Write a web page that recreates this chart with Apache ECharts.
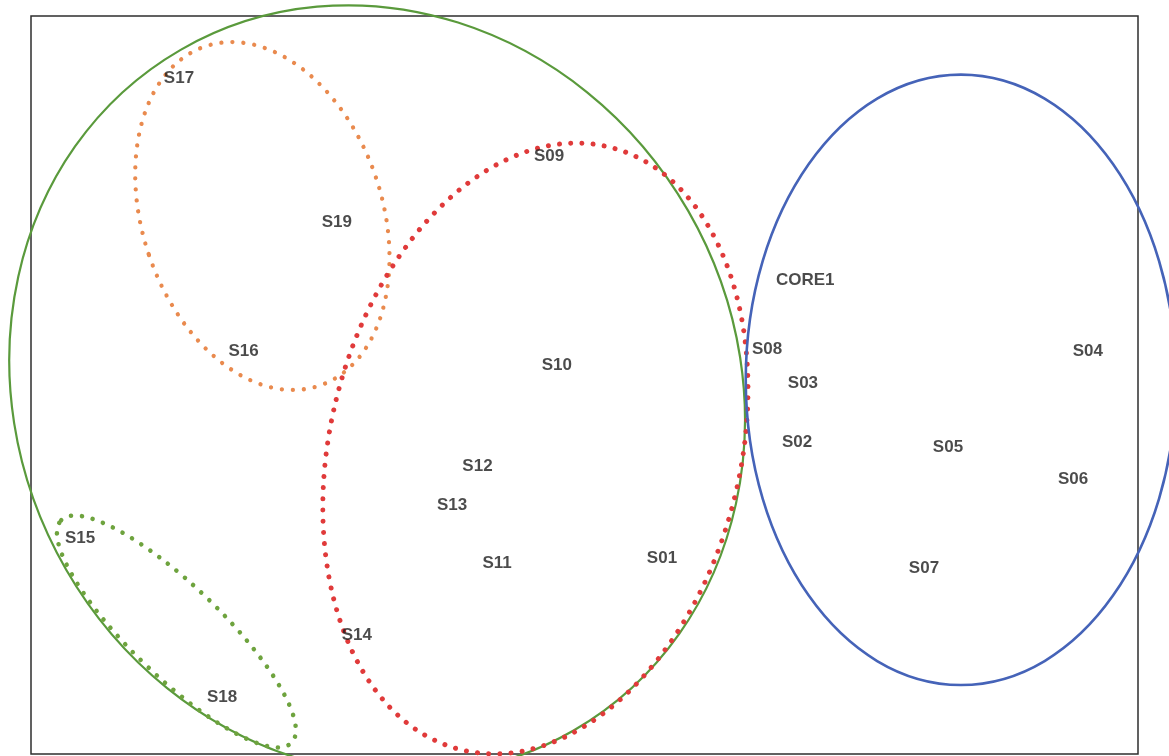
<!DOCTYPE html>
<html>
<head>
<meta charset="utf-8">
<script src="https://cdn.jsdelivr.net/npm/echarts@6/dist/echarts.min.js"></script>
<style>
  html, body { margin: 0; padding: 0; background: #ffffff; }
  #chart { width: 1169px; height: 756px; }
</style>
</head>
<body>
<div id="chart"></div>
<script>
// Ordination scores of the sampling sites (axis 1, axis 2)
const sites = ['S01', 'S02', 'S03', 'S04', 'S05', 'S06', 'S07', 'S08', 'S09', 'S10',
               'S11', 'S12', 'S13', 'S14', 'S15', 'S16', 'S17', 'S18', 'S19', 'CORE1'];
const axis1 = [0.210, 0.576, 0.592, 1.364, 0.985, 1.324, 0.920, 0.495, -0.096, -0.075,
               -0.237, -0.290, -0.359, -0.617, -1.367, -0.924, -1.099, -0.982, -0.671, 0.598];
const axis2 = [-0.469, -0.154, 0.005, 0.092, -0.168, -0.255, -0.496, 0.098, 0.621, 0.054,
               -0.482, -0.220, -0.325, -0.678, -0.415, 0.092, 0.832, -0.846, 0.442, 0.285];

// Group ellipses: centre, semi-axes (plot units) and tilt in degrees
const ellipseNames = ['groupA', 'groupB', 'groupC', 'groupD', 'groupE'];
const ellipseCx    = [-0.562, -0.873, -0.133, -1.106, 1.020];
const ellipseCy    = [-0.014,  0.458, -0.172, -0.668, 0.014];
const ellipseRx    = [ 0.973,  0.325,  0.556,  0.434, 0.583];
const ellipseRy    = [ 1.065,  0.485,  0.841,  0.123, 0.827];
const ellipseTilt  = [ 30,     18.5,  -13.8,  -44,    0];

// Stroke styles for each group outline
const ellipseStyles = [
  { stroke: '#5a9a3c', lineWidth: 2.2 },
  { stroke: '#e98a4e', lineWidth: 4.3, lineDash: [0.01, 11], lineCap: 'round' },
  { stroke: '#e03a3a', lineWidth: 5, lineDash: [0.01, 11.2], lineCap: 'round' },
  { stroke: '#6ea33e', lineWidth: 4.6, lineDash: [0.01, 11], lineCap: 'round' },
  { stroke: '#4563b8', lineWidth: 2.6 }
];

const pointData = sites.map((s, i) => ({ name: s, value: [axis1[i], axis2[i]] }));
const ellipseData = ellipseNames.map((n, i) => ({
  name: n,
  value: [ellipseCx[i], ellipseCy[i], ellipseRx[i], ellipseRy[i], ellipseTilt[i], i]
}));

const chart = echarts.init(document.getElementById('chart'), null, { renderer: 'canvas' });

chart.setOption({
  animation: false,
  backgroundColor: '#ffffff',
  grid: {
    left: 31, top: 16, width: 1107, height: 738,
    show: true, borderColor: '#2e2e2e', borderWidth: 1.5, backgroundColor: 'transparent'
  },
  xAxis: {
    type: 'value', min: -1.5, max: 1.5,
    axisLine: { show: false }, axisTick: { show: false },
    axisLabel: { show: false }, splitLine: { show: false }
  },
  yAxis: {
    type: 'value', min: -1, max: 1,
    axisLine: { show: false }, axisTick: { show: false },
    axisLabel: { show: false }, splitLine: { show: false }
  },
  series: [
    {
      type: 'custom',
      clip: false,
      z: 2,
      data: ellipseData,
      renderItem: function (params, api) {
        const c = api.coord([api.value(0), api.value(1)]);
        const s = api.size([api.value(2), api.value(3)]);
        const st = ellipseStyles[api.value(5)];
        return {
          type: 'ellipse',
          shape: { cx: c[0], cy: c[1], rx: s[0], ry: s[1] },
          originX: c[0], originY: c[1],
          rotation: api.value(4) * Math.PI / 180,
          style: Object.assign({ fill: 'none' }, st),
          silent: true
        };
      }
    },
    {
      type: 'scatter',
      z: 3,
      symbol: 'circle',
      symbolSize: 1,
      itemStyle: { color: 'rgba(0,0,0,0)' },
      data: pointData,
      label: {
        show: true,
        position: 'inside',
        formatter: '{b}',
        color: '#1e1e1e',
        fontFamily: 'Liberation Sans, Arial, sans-serif',
        fontWeight: 'bold',
        fontSize: 17
      }
    }
  ]
});
</script>
</body>
</html>
